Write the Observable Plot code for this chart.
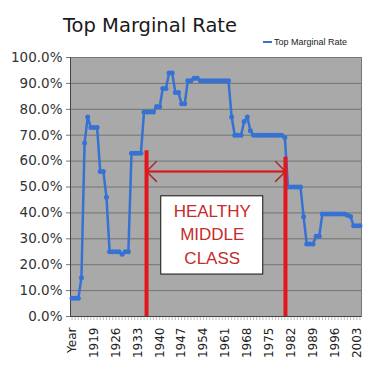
<!DOCTYPE html>
<html><head><meta charset="utf-8">
<script src="https://cdn.jsdelivr.net/npm/d3@7"></script>
<script src="https://cdn.jsdelivr.net/npm/@observablehq/plot@0.6"></script>
<style>
body{margin:0;background:#fff;}
#wrap{position:relative;width:380px;height:377px;overflow:hidden;background:#fff}
#title{position:absolute;left:63px;top:16px;font-size:19.5px;line-height:19px;font-family:"DejaVu Sans";color:#1a1a1a;white-space:nowrap}
#legend{position:absolute;left:263px;top:37px;font-size:9px;line-height:10px;font-family:"Liberation Sans";color:#222;white-space:nowrap;display:flex;align-items:center}
#legend .sw{display:inline-block;width:9px;height:2px;background:#3672d3;margin-right:2px}
#chart{position:absolute;left:0;top:0}
</style></head>
<body>
<div id="wrap">
<div id="chart"></div>
<div id="title">Top Marginal Rate</div>
<div id="legend"><span class="sw"></span><span>Top Marginal Rate</span></div>
</div>
<script>
// category labels as on the original x axis (first entry is the header "Year")
const categories = ["Year","1913","1914","1915","1916","1917","1918","1919","1920","1921","1922","1923","1924","1925","1926","1927","1928","1929","1930","1931","1932","1933","1934","1935","1936","1937","1938","1939","1940","1941","1942","1943","1944","1945","1946","1947","1948","1949","1950","1951","1952","1953","1954","1955","1956","1957","1958","1959","1960","1961","1962","1963","1964","1965","1966","1967","1968","1969","1970","1971","1972","1973","1974","1975","1976","1977","1978","1979","1980","1981","1982","1983","1984","1985","1986","1987","1988","1989","1990","1991","1992","1993","1994","1995","1996","1997","1998","1999","2000","2001","2002","2003","2004"];
// top marginal rate (%), one per category slot
const rates = [7,7,7,15,67,77,73,73,73,56,56,46,25,25,25,25,24,25,25,63,63,63,63,79,79,79,79,81.1,81,88,88,94,94,86.45,86.45,82.13,82.13,91,91,92,92,91,91,91,91,91,91,91,91,91,91,77,70,70,70,75.25,77,71.75,70,70,70,70,70,70,70,70,70,70,69.13,50,50,50,50,50,38.5,28,28,28,31,31,39.6,39.6,39.6,39.6,39.6,39.6,39.6,39.6,39.1,38.6,35,35,35];
const labeledCategories = ["Year","1919","1926","1933","1940","1947","1954","1961","1968","1975","1982","1989","1996","2003"];
const yTicks = [0,10,20,30,40,50,60,70,80,90,100];
// annotation (category-slot positions and rate levels)
const spanEdges = [23.8, 68.2];
const spanTops = [64, 61.5];
const arrowLevel = 56;
const boxSlots = [28.5, 61.1];
const boxRates = [16.2, 46.4];
const boxText = "HEALTHY\nMIDDLE\nCLASS";
const boxTextRate = 32.4;

const data = rates.map((r, i) => ({i, rate: r}));
const allIdx = categories.map((_, i) => i);
const labelIdx = labeledCategories.map(c => categories.indexOf(c));
const blue = "#3672d3";
const red = "#e3161b";
const darkRed = "#a82a2a";
const mid = (spanEdges[0] + spanEdges[1]) / 2;

const chart = Plot.plot({
  width: 380, height: 377,
  marginLeft: 70, marginRight: 19, marginTop: 57, marginBottom: 61,
  style: {background: "transparent", overflow: "visible"},
  x: {domain: [-0.5, categories.length - 0.5], axis: null},
  y: {domain: [0, 100], axis: null},
  marks: [
    Plot.frame({fill: "#a9a9a9", stroke: null}),
    Plot.gridY(yTicks, {stroke: "#747474", strokeOpacity: 1, strokeWidth: 1}),
    Plot.frame({stroke: "#777", strokeWidth: 1}),
    Plot.axisY({ticks: yTicks, tickFormat: d => d.toFixed(1) + "%", tickSize: 4, tickPadding: 4,
      fontSize: 13.5, fontFamily: "DejaVu Sans", fill: "#333", stroke: "#777"}),
    Plot.axisX({ticks: allIdx, tickFormat: () => "", tickSize: 4, stroke: "#bbb"}),
    Plot.axisX({ticks: labelIdx, tickFormat: i => categories[i], tickRotate: -90, tickSize: 0, tickPadding: 11,
      fontSize: 12, fontFamily: "DejaVu Sans", fill: "#222"}),
    Plot.ruleX([-0.5], {stroke: "#444"}),
    Plot.ruleY([0], {stroke: "#444"}),
    Plot.line(data, {x: "i", y: "rate", stroke: blue, strokeWidth: 2.5}),
    Plot.dot(data, {x: "i", y: "rate", r: 2.5, fill: blue, stroke: null}),
    Plot.arrow([{x1: mid, x2: spanEdges[0]}, {x1: mid, x2: spanEdges[1]}], {x1: "x1", x2: "x2", y1: arrowLevel, y2: arrowLevel,
      stroke: darkRed, strokeWidth: 1.5, headLength: 14, headAngle: 90}),
    Plot.link([{x1: spanEdges[0], x2: spanEdges[1], y: arrowLevel}], {x1: "x1", x2: "x2", y1: "y", y2: "y",
      stroke: red, strokeWidth: 2}),
    Plot.ruleX(spanEdges.map((x, k) => ({x, top: spanTops[k]})), {x: "x", y1: 0, y2: "top", stroke: red, strokeWidth: 4}),
    Plot.rect([{x1: boxSlots[0], x2: boxSlots[1], y1: boxRates[0], y2: boxRates[1]}], {x1: "x1", x2: "x2", y1: "y1", y2: "y2",
      fill: "white", stroke: "#111", strokeWidth: 1}),
    Plot.text([boxText], {x: (boxSlots[0] + boxSlots[1]) / 2, y: boxTextRate, text: d => d, fontSize: 17,
      fontFamily: "Liberation Sans", fill: "#c42b2b", lineHeight: 1.38, lineAnchor: "middle"})
  ]
});
document.getElementById("chart").appendChild(chart);
</script>
</body></html>
